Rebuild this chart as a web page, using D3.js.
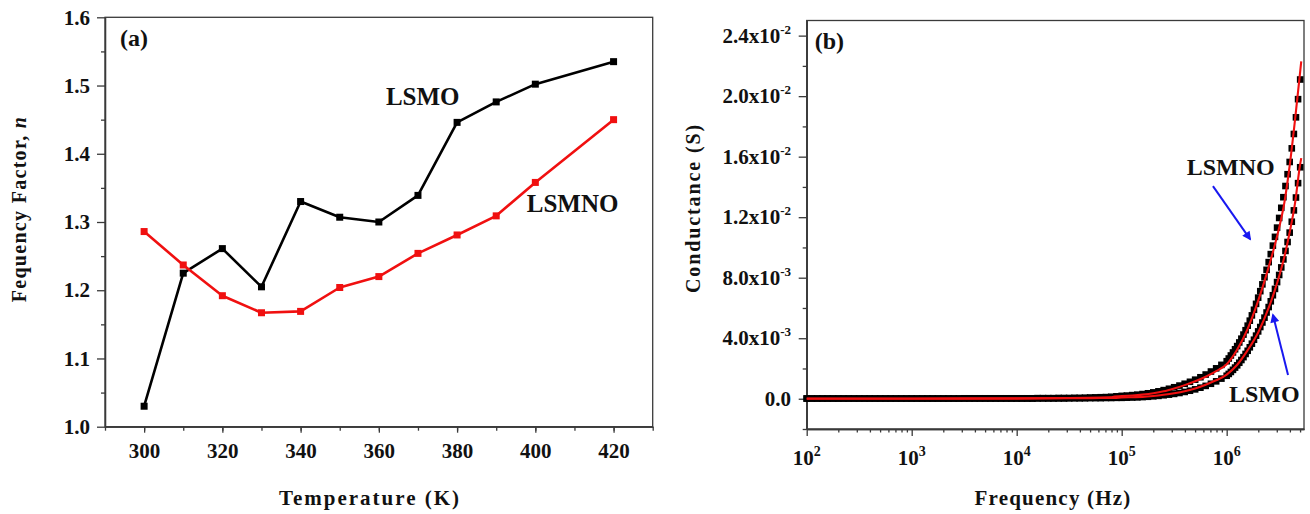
<!DOCTYPE html>
<html>
<head>
<meta charset="utf-8">
<script src="https://cdn.jsdelivr.net/npm/d3@7"></script>
<style>
  html, body { margin: 0; padding: 0; background: #fff; }
  svg { display: block; font-family: "Liberation Serif", "Times New Roman", serif; font-weight: bold; }
</style>
</head>
<body>
<svg id="fig" width="1310" height="514"></svg>
<script>
// ---------- Panel (a): frequency exponent n versus temperature ----------
const temperatures = [300, 310, 320, 330, 340, 350, 360, 370, 380, 390, 400, 420];
const nLSMO  = [1.030, 1.225, 1.261, 1.205, 1.330, 1.307, 1.300, 1.339, 1.446, 1.476, 1.502, 1.535];
const nLSMNO = [1.286, 1.237, 1.192, 1.167, 1.169, 1.204, 1.220, 1.254, 1.281, 1.309, 1.358, 1.450];
const tempTicks = [300, 320, 340, 360, 380, 400, 420];
const nTicks = [1.0, 1.1, 1.2, 1.3, 1.4, 1.5, 1.6];

// ---------- Panel (b): conductance versus frequency ----------
// measured frequencies (Hz)
const freqHz = [
  100, 112, 126, 141, 158, 178, 200, 224, 251, 282, 316, 355, 398, 447, 501, 562, 631, 708, 794, 891,
  1000, 1120, 1260, 1410, 1580, 1780, 2000, 2240, 2510, 2820, 3160, 3550, 3980, 4470, 5010, 5620, 6310, 7080, 7940, 8910,
  10000, 11200, 12600, 14100, 15800, 17800, 20000, 22400, 25100, 28200, 31600, 35500, 39800, 44700, 50100, 56200, 63100, 70800, 79400, 89100,
  100000, 112000, 126000, 141000, 158000, 178000, 200000, 224000, 251000, 282000, 316000, 355000, 398000, 447000, 501000, 562000, 631000, 708000, 794000, 891000,
  1000000, 1047000, 1096000, 1148000, 1202000, 1259000, 1318000, 1380000, 1445000, 1514000, 1585000, 1660000, 1738000, 1820000, 1905000, 1995000, 2089000, 2188000,
  2291000, 2399000, 2512000, 2630000, 2754000, 2884000, 3020000, 3162000, 3311000, 3467000, 3631000, 3802000, 3981000, 4169000, 4365000, 4571000, 4786000, 5012000
];
// measured conductance, in mS
const gLSMNO = [
  0.02, 0.02, 0.02, 0.02, 0.02, 0.02, 0.02, 0.02, 0.02, 0.02, 0.02, 0.02, 0.02, 0.02, 0.02, 0.02, 0.02, 0.02, 0.02, 0.02,
  0.02, 0.02, 0.02, 0.02, 0.02, 0.02, 0.02, 0.02, 0.02, 0.02, 0.03, 0.03, 0.03, 0.03, 0.03, 0.03, 0.03, 0.03, 0.03, 0.03,
  0.03, 0.03, 0.03, 0.03, 0.04, 0.04, 0.04, 0.04, 0.05, 0.05, 0.05, 0.06, 0.06, 0.07, 0.08, 0.09, 0.10, 0.11, 0.13, 0.16,
  0.19, 0.21, 0.24, 0.27, 0.31, 0.36, 0.42, 0.49, 0.57, 0.66, 0.76, 0.87, 0.99, 1.12, 1.26, 1.42, 1.60, 1.80, 2.01, 2.24,
  2.48, 2.66, 2.86, 3.06, 3.27, 3.48, 3.72, 3.97, 4.24, 4.53, 4.83, 5.16, 5.51, 5.88, 6.27, 6.68, 7.11, 7.56,
  8.03, 8.52, 9.03, 9.56, 10.12, 10.70, 11.31, 11.95, 12.62, 13.32, 14.06, 14.84, 15.65, 16.55, 17.50, 18.60, 19.80, 21.10
];
const gLSMO = [
  0.01, 0.01, 0.01, 0.01, 0.01, 0.01, 0.01, 0.01, 0.01, 0.01, 0.01, 0.01, 0.01, 0.01, 0.01, 0.01, 0.01, 0.01, 0.01, 0.01,
  0.01, 0.01, 0.01, 0.01, 0.01, 0.01, 0.01, 0.01, 0.01, 0.01, 0.01, 0.01, 0.01, 0.01, 0.01, 0.01, 0.01, 0.01, 0.01, 0.01,
  0.01, 0.01, 0.01, 0.01, 0.02, 0.02, 0.02, 0.02, 0.02, 0.02, 0.03, 0.03, 0.03, 0.03, 0.04, 0.04, 0.04, 0.05, 0.05, 0.06,
  0.06, 0.07, 0.08, 0.09, 0.11, 0.13, 0.16, 0.19, 0.23, 0.27, 0.32, 0.38, 0.45, 0.53, 0.62, 0.73, 0.85, 0.99, 1.15, 1.33,
  1.52, 1.64, 1.77, 1.91, 2.06, 2.21, 2.38, 2.56, 2.75, 2.96, 3.17, 3.40, 3.64, 3.90, 4.17, 4.45, 4.74, 5.04,
  5.36, 5.70, 6.06, 6.44, 6.84, 7.26, 7.71, 8.18, 8.68, 9.21, 9.77, 10.36, 10.98, 11.70, 12.45, 13.30, 14.25, 15.30
];
// fitted curves (mS)
const fitFreqHz = [100, 1000, 10000, 31600, 63100, 79400, 85100, 100000, 126000, 158000, 200000, 251000, 316000, 398000, 501000,
  631000, 794000, 1000000, 1260000, 1580000, 2000000, 2510000, 2820000, 3160000, 3550000, 3980000, 4470000, 5010000, 5130000];
const fitLSMNO = [0.02, 0.02, 0.03, 0.05, 0.08, 0.09, 0.15, 0.17, 0.21, 0.27, 0.36, 0.49, 0.68, 0.90, 1.15,
  1.45, 1.82, 2.28, 3.25, 4.60, 6.50, 8.70, 9.95, 11.30, 13.00, 15.40, 18.40, 21.60, 22.30];
const fitLSMO = [0.00, 0.00, 0.01, 0.03, 0.05, 0.06, 0.06, 0.08, 0.10, 0.12, 0.18, 0.26, 0.36, 0.49, 0.68,
  0.93, 1.22, 1.60, 2.25, 3.20, 4.40, 6.00, 7.00, 8.10, 9.40, 11.00, 12.90, 15.50, 15.90];
const condTicks = [0, 0.004, 0.008, 0.012, 0.016, 0.020, 0.024];
const condTickMantissa = ["0.0", "4.0x10", "8.0x10", "1.2x10", "1.6x10", "2.0x10", "2.4x10"];
const condTickExponent = ["", "-3", "-3", "-2", "-2", "-2", "-2"];
const freqTickExponents = [2, 3, 4, 5, 6];

// ---------- drawing ----------
const svg = d3.select("#fig");
svg.append("rect").attr("width", 1310).attr("height", 514).attr("fill", "#fff");
const AXIS = "#3a3a3a", INK = "#111", RED = "#f01010", BLUE = "#1818f0";

const defs = svg.append("defs");
defs.append("marker").attr("id", "arrowhead")
  .attr("viewBox", "0 0 10 10").attr("refX", 8).attr("refY", 5)
  .attr("markerWidth", 5.5).attr("markerHeight", 4.5)
  .attr("markerUnits", "strokeWidth").attr("orient", "auto")
  .append("path").attr("d", "M0,0L10,5L0,10z").attr("fill", BLUE);

function styleAxis(g) {
  g.select(".domain").attr("stroke", AXIS).attr("stroke-width", 1.3);
  g.selectAll(".tick line").attr("stroke", AXIS).attr("stroke-width", 1.3);
  g.selectAll(".tick text").attr("fill", INK).attr("font-size", 21)
    .attr("font-family", "'Liberation Serif','Times New Roman',serif").attr("font-weight", "bold");
}
function frame(g, x, y) {
  g.append("rect")
    .attr("x", x.range()[0]).attr("y", y.range()[1])
    .attr("width", x.range()[1] - x.range()[0]).attr("height", y.range()[0] - y.range()[1])
    .attr("fill", "none").attr("stroke", AXIS).attr("stroke-width", 1.3);
}

// ===== panel (a) =====
const gA = svg.append("g");
const xA = d3.scaleLinear().domain([290, 430]).range([105, 652.7]);
const yA = d3.scaleLinear().domain([1.0, 1.6]).range([426.7, 17.3]);

gA.append("g").attr("transform", `translate(0,${yA.range()[0]})`)
  .call(d3.axisBottom(xA).tickValues(d3.range(290, 431, 10)).tickSize(4).tickSizeOuter(0).tickFormat(""))
  .call(styleAxis);
gA.append("g").attr("transform", `translate(0,${yA.range()[0]})`)
  .call(d3.axisBottom(xA).tickValues(tempTicks).tickSize(6).tickPadding(10).tickSizeOuter(0).tickFormat(d3.format("d")))
  .call(styleAxis);
gA.append("g").attr("transform", `translate(${xA.range()[0]},0)`)
  .call(d3.axisLeft(yA).tickValues(d3.range(1.05, 1.6, 0.1)).tickSize(4).tickSizeOuter(0).tickFormat(""))
  .call(styleAxis);
gA.append("g").attr("transform", `translate(${xA.range()[0]},0)`)
  .call(d3.axisLeft(yA).tickValues(nTicks).tickSize(8).tickPadding(7).tickSizeOuter(0).tickFormat(d3.format(".1f")))
  .call(styleAxis);
frame(gA, xA, yA);

const seriesA = [
  { name: "LSMO", values: nLSMO, color: "#000" },
  { name: "LSMNO", values: nLSMNO, color: RED }
];
const lineA = d3.line().x(d => xA(d[0])).y(d => yA(d[1]));
seriesA.forEach(s => {
  const pts = temperatures.map((t, i) => [t, s.values[i]]);
  gA.append("path").datum(pts).attr("d", lineA)
    .attr("fill", "none").attr("stroke", s.color).attr("stroke-width", 2.6).attr("stroke-linejoin", "round");
  gA.selectAll(null).data(pts).enter().append("rect")
    .attr("x", d => xA(d[0]) - 3.5).attr("y", d => yA(d[1]) - 3.5)
    .attr("width", 7).attr("height", 7).attr("fill", s.color);
});

gA.append("text").attr("x", xA.range()[0] + 15).attr("y", yA.range()[1] + 29)
  .attr("font-size", 24).attr("fill", INK).text("(a)");
gA.append("text").attr("x", xA(361.8)).attr("y", yA(1.4715))
  .attr("font-size", 25).attr("fill", INK).text("LSMO");
gA.append("text").attr("x", xA(397.8)).attr("y", yA(1.3147))
  .attr("font-size", 25).attr("fill", INK).text("LSMNO");

gA.append("text").attr("x", 370).attr("y", 505).attr("text-anchor", "middle")
  .attr("font-size", 21).attr("letter-spacing", 2).attr("fill", INK).text("Temperature (K)");
const yTitleA = gA.append("text").attr("transform", "translate(26,209) rotate(-90)")
  .attr("text-anchor", "middle").attr("font-size", 20).attr("letter-spacing", 1.3).attr("fill", INK);
yTitleA.append("tspan").text("Fequency Factor, ");
yTitleA.append("tspan").attr("font-style", "italic").text("n");

// ===== panel (b) =====
const gB = svg.append("g");
const xB = d3.scaleLog().domain([1e2, 5.45e6]).range([806.7, 1304]);
const yB = d3.scaleLinear().domain([-0.002, 0.025]).range([429, 20.5]);

const logMinor = [];
for (let e = 2; e <= 6; e++) for (let m = 2; m <= 9; m++) if (m * Math.pow(10, e) <= 5.45e6) logMinor.push(m * Math.pow(10, e));
gB.append("g").attr("transform", `translate(0,${yB.range()[0]})`)
  .call(d3.axisBottom(xB).tickValues(logMinor).tickSize(3.5).tickSizeOuter(0).tickFormat(""))
  .call(styleAxis);
gB.append("g").attr("transform", `translate(0,${yB.range()[0]})`)
  .call(d3.axisBottom(xB).tickValues(freqTickExponents.map(e => Math.pow(10, e))).tickSize(7).tickSizeOuter(0).tickFormat(""))
  .call(styleAxis);
gB.append("g").attr("transform", `translate(${xB.range()[0]},0)`)
  .call(d3.axisLeft(yB).tickValues(d3.range(-0.002, 0.0251, 0.004)).tickSize(4).tickSizeOuter(0).tickFormat(""))
  .call(styleAxis);
gB.append("g").attr("transform", `translate(${xB.range()[0]},0)`)
  .call(d3.axisLeft(yB).tickValues(condTicks).tickSize(8).tickSizeOuter(0).tickFormat(""))
  .call(styleAxis);
frame(gB, xB, yB);

// tick labels with superscript exponents
freqTickExponents.forEach(e => {
  const t = gB.append("text").attr("x", xB(Math.pow(10, e))).attr("y", 465)
    .attr("text-anchor", "middle").attr("font-size", 21).attr("fill", INK);
  t.append("tspan").text("10");
  t.append("tspan").attr("font-size", 14).attr("dy", -9).text(String(e));
});
condTicks.forEach((v, i) => {
  const t = gB.append("text").attr("x", 791).attr("y", yB(v) + 7)
    .attr("text-anchor", "end").attr("font-size", 21).attr("fill", INK);
  t.append("tspan").text(condTickMantissa[i]);
  if (condTickExponent[i]) t.append("tspan").attr("font-size", 13).attr("dy", -9).text(condTickExponent[i]);
});

// measured points (black squares)
[gLSMO, gLSMNO].forEach(vals => {
  gB.append("g").selectAll("rect").data(freqHz.map((f, i) => [f, vals[i] / 1000])).enter().append("rect")
    .attr("x", d => xB(d[0]) - 3.3).attr("y", d => yB(d[1]) - 3.3)
    .attr("width", 6.6).attr("height", 6.6).attr("fill", "#000");
});
// fitted curves (red)
const lineB = d3.line().x(d => xB(d[0])).y(d => yB(d[1])).curve(d3.curveMonotoneX);
[fitLSMO, fitLSMNO].forEach(vals => {
  gB.append("path").datum(fitFreqHz.map((f, i) => [f, vals[i] / 1000])).attr("d", lineB)
    .attr("fill", "none").attr("stroke", RED).attr("stroke-width", 2.1);
});

gB.append("text").attr("x", xB.range()[0] + 8).attr("y", yB.range()[1] + 28)
  .attr("font-size", 24).attr("fill", INK).text("(b)");
gB.append("text").attr("x", xB(4.16e5)).attr("y", yB(0.01478))
  .attr("font-size", 24).attr("fill", INK).text("LSMNO");
gB.append("text").attr("x", xB(1.05e6)).attr("y", yB(-0.0002))
  .attr("font-size", 24).attr("fill", INK).text("LSMO");

// arrows pointing at the two curves
[[7.4e5, 0.01405, 1.67e6, 0.01055], [3.84e6, 0.00157, 2.76e6, 0.00553]].forEach(a => {
  gB.append("line")
    .attr("x1", xB(a[0])).attr("y1", yB(a[1])).attr("x2", xB(a[2])).attr("y2", yB(a[3]))
    .attr("stroke", BLUE).attr("stroke-width", 2).attr("marker-end", "url(#arrowhead)");
});

gB.append("text").attr("x", 1053).attr("y", 505).attr("text-anchor", "middle")
  .attr("font-size", 21).attr("letter-spacing", 1.2).attr("fill", INK).text("Frequency (Hz)");
gB.append("text").attr("transform", "translate(700,208) rotate(-90)")
  .attr("text-anchor", "middle").attr("font-size", 20).attr("letter-spacing", 1.9).attr("fill", INK)
  .text("Conductance (S)");
</script>
</body>
</html>
